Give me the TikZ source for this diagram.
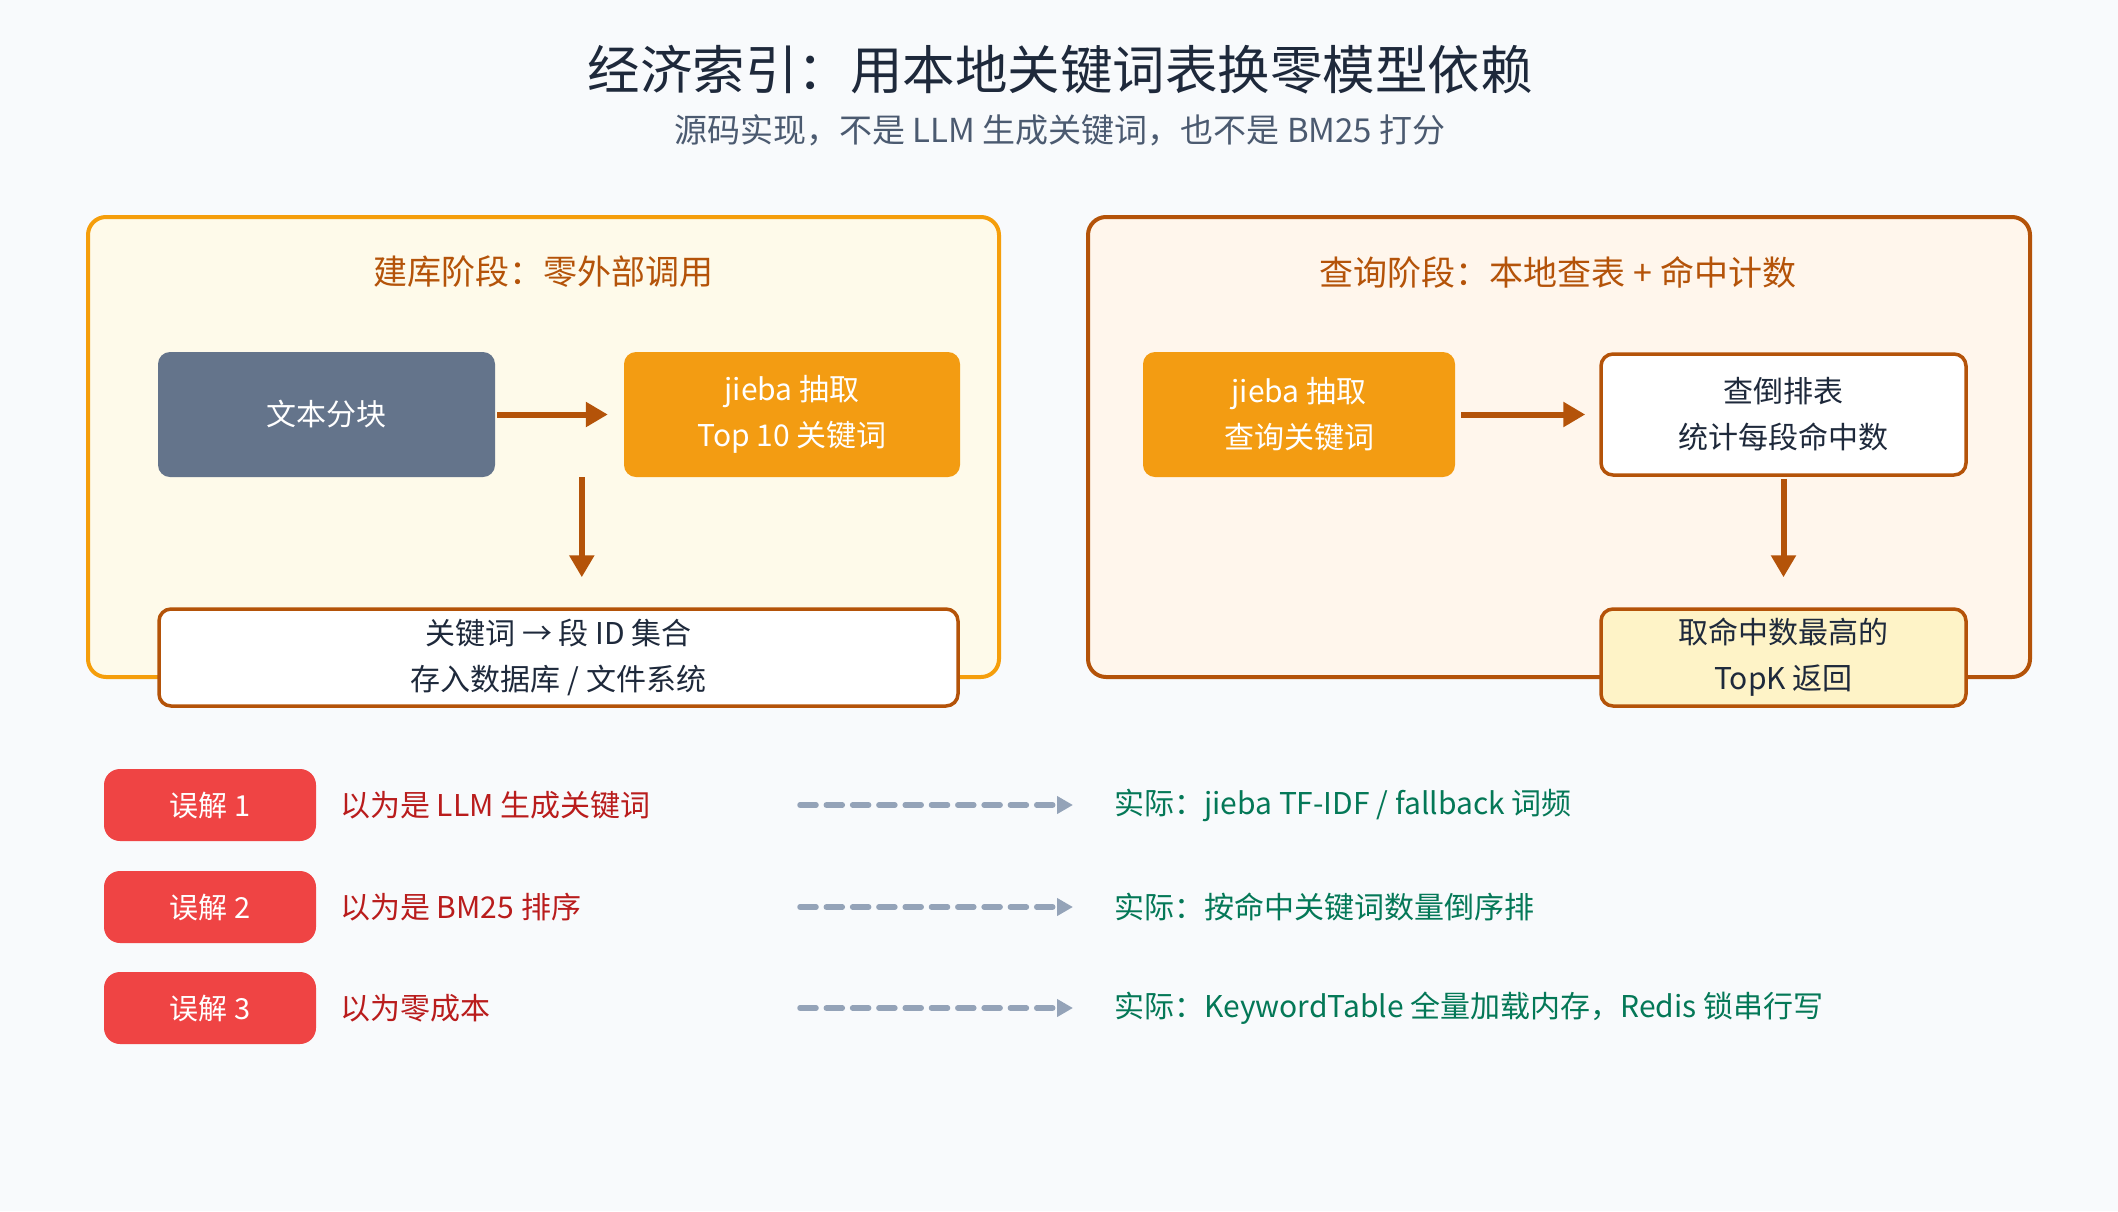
\documentclass[tikz,border=0pt]{standalone}
\usepackage{fontspec}
\setmainfont{Noto Sans CJK SC}
\usetikzlibrary{arrows.meta}
\definecolor{bgc}{HTML}{F8FAFC}
\definecolor{titlec}{HTML}{1E293B}
\definecolor{subc}{HTML}{4B5A70}
\definecolor{amber}{HTML}{F59E0B}
\definecolor{amberfill}{HTML}{F39C12}
\definecolor{brown}{HTML}{B45309}
\definecolor{creamL}{HTML}{FEFAEA}
\definecolor{creamR}{HTML}{FFF6EC}
\definecolor{slatebox}{HTML}{64748B}
\definecolor{ltyellow}{HTML}{FEF3C7}
\definecolor{pillred}{HTML}{EF4444}
\definecolor{darkred}{HTML}{B91C1C}
\definecolor{greenc}{HTML}{047857}
\definecolor{dashgray}{HTML}{94A3B8}
\tikzset{
  panelL/.style={draw=amber, fill=creamL, line width=4pt, rounded corners=18pt},
  panelR/.style={draw=brown, fill=creamR, line width=4pt, rounded corners=18pt},
  ptitle/.style={text=brown, font=\fontsize{34}{40}\selectfont, inner sep=0pt},
  boxtxt/.style={font=\fontsize{30}{46}\selectfont, align=center, inner sep=0pt},
  slatebx/.style={boxtxt, fill=slatebox, text=white, rounded corners=12pt},
  amberbx/.style={boxtxt, fill=amberfill, text=white, rounded corners=12pt},
  whitebx/.style={boxtxt, fill=white, draw=brown, line width=3.5pt, text=titlec, rounded corners=12pt},
  yellowbx/.style={boxtxt, fill=ltyellow, draw=brown, line width=3.5pt, text=titlec, rounded corners=12pt},
  pill/.style={fill=pillred, text=white, rounded corners=16pt, minimum width=212pt, minimum height=72pt, font=\fontsize{29}{34}\selectfont, inner sep=0pt},
  mistxt/.style={text=darkred, font=\fontsize{30}{36}\selectfont, anchor=west, inner sep=0pt},
  acttxt/.style={text=greenc, font=\fontsize{30}{36}\selectfont, anchor=west, inner sep=0pt},
  flow/.style={draw=brown, line width=6pt, -{Triangle[length=22pt,width=24pt]}},
  dasharrow/.style={draw=dashgray, line width=5.5pt, line cap=round, dash pattern=on 16pt off 10.3pt, -{Triangle[length=16pt,width=17pt]}},
}
\begin{document}
\begin{tikzpicture}[x=1pt,y=-1pt]
\useasboundingbox[fill=bgc] (0,0) rectangle (2118,1211);
% titles
\node[text=titlec, font=\fontsize{52.5}{62}\selectfont, inner sep=0pt] (title) at (1060,70) {经济索引：用本地关键词表换零模型依赖};
\node[text=subc, font=\fontsize{33}{40}\selectfont, inner sep=0pt] (sub) at (1060,130) {源码实现，不是 LLM 生成关键词，也不是 BM25 打分};
% panels
\node[panelL, minimum width=911pt, minimum height=460pt] (pL) at (543.5,447) {};
\node[panelR, minimum width=942pt, minimum height=460pt] (pR) at (1559,447) {};
\node[ptitle] (ptL) at (543.5,272) {建库阶段：零外部调用};
\node[ptitle] (ptR) at (1558,272) {查询阶段：本地查表 + 命中计数};
% left boxes
\node[slatebx, minimum width=337pt, minimum height=125pt] (b1) at (326.5,414.5) {文本分块};
\node[amberbx, minimum width=336pt, minimum height=125pt] (b2) at (792,414.5) {jieba 抽取\\Top 10 关键词};
\node[whitebx, minimum width=799pt, minimum height=97pt] (st) at (558.5,657.5) {关键词 → 段 ID 集合\\存入数据库 / 文件系统};
% right boxes
\node[amberbx, minimum width=312pt, minimum height=125pt] (q1) at (1299,414.5) {jieba 抽取\\查询关键词};
\node[whitebx, minimum width=365pt, minimum height=121pt] (inv) at (1783.5,414.5) {查倒排表\\统计每段命中数};
\node[yellowbx, minimum width=365pt, minimum height=97pt] (top) at (1783.5,657.5) {取命中数最高的\\TopK 返回};
% flow arrows
\draw[flow, shorten <=2pt, shorten >=16pt] (b1.east) -- (b2.west);
\draw[flow, shorten >=30pt] ([xshift=-42pt]b2.south west) -- ([xshift=-42pt]b2.south west |- st.north);
\draw[flow, shorten <=6pt, shorten >=14pt] (q1.east) -- (inv.west);
\draw[flow, shorten <=2pt, shorten >=30pt] (inv.south) -- (top.north);
% misconceptions
\node[pill] (p1) at (210,805) {误解 1};
\node[pill] (p2) at (210,907) {误解 2};
\node[pill] (p3) at (210,1008) {误解 3};
\node[mistxt] (m1) at (340,805) {以为是 LLM 生成关键词};
\node[mistxt] (m2) at (340,907) {以为是 BM25 排序};
\node[mistxt] (m3) at (340,1008) {以为零成本};
\node[acttxt] (a1) at (1114,805) {实际：jieba TF-IDF / fallback 词频};
\node[acttxt] (a2) at (1114,907) {实际：按命中关键词数量倒序排};
\node[acttxt] (a3) at (1114,1008) {实际：KeywordTable 全量加载内存，Redis 锁串行写};
\coordinate (ds1) at (800,805);
\coordinate (ds2) at (800,907);
\coordinate (ds3) at (800,1008);
\draw[dasharrow, shorten >=2pt] (ds1) -- (a1.west -| 1075,0);
\draw[dasharrow, shorten >=2pt] (ds2) -- (a2.west -| 1075,0);
\draw[dasharrow, shorten >=2pt] (ds3) -- (a3.west -| 1075,0);
\end{tikzpicture}
\end{document}
